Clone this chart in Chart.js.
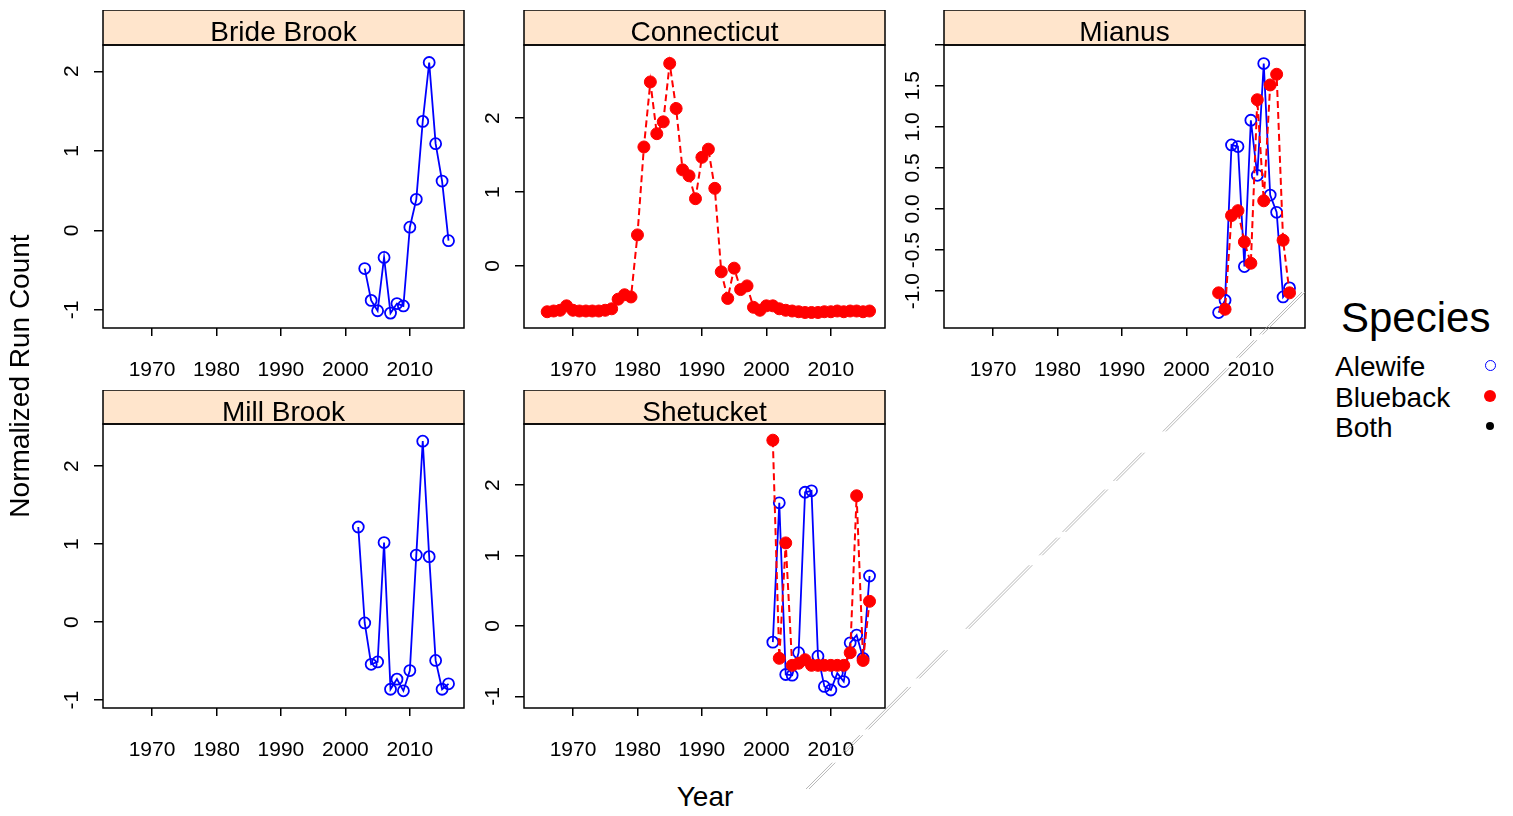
<!DOCTYPE html>
<html>
<head>
<meta charset="utf-8">
<title>Normalized run counts by river</title>
<script src="https://cdn.jsdelivr.net/npm/chart.js@4.4.1/dist/chart.umd.min.js"></script>
<style>
  body { margin: 0; background: #fff; width: 1513px; height: 816px; position: relative; overflow: hidden;
         font-family: "Liberation Sans", Arial, Helvetica, sans-serif; }
  canvas.panel { position: absolute; }
  .lbl { position: absolute; color: #000; white-space: nowrap; line-height: 1; }
  .dot { position: absolute; border-radius: 50%; box-sizing: border-box; }
  #scratch { position: absolute; left: 0; top: 0; pointer-events: none; }
</style>
</head>
<body>

<canvas id="bride" class="panel"></canvas>
<canvas id="conn" class="panel"></canvas>
<canvas id="mianus" class="panel"></canvas>
<canvas id="mill" class="panel"></canvas>
<canvas id="shet" class="panel"></canvas>

<div class="lbl" style="left:20px; top:376px; font-size:28px; transform:translate(-50%,-50%) rotate(-90deg);">Normalized Run Count</div>
<div class="lbl" style="left:705px; top:797px; font-size:28px; transform:translate(-50%,-50%);">Year</div>

<div class="lbl" style="left:1341px; top:318px; font-size:42px; transform:translateY(-50%);">Species</div>
<div class="lbl" style="left:1335px; top:367px; font-size:28px; transform:translateY(-50%);">Alewife</div>
<div class="lbl" style="left:1335px; top:398px; font-size:28px; transform:translateY(-50%);">Blueback</div>
<div class="lbl" style="left:1335px; top:428px; font-size:28px; transform:translateY(-50%);">Both</div>
<div class="dot" style="left:1485px; top:360px; width:11px; height:11px; border:1.8px solid #0000ff;"></div>
<div class="dot" style="left:1484px; top:390px; width:12px; height:12px; background:#ff0000;"></div>
<div class="dot" style="left:1486px; top:422px; width:8px; height:8px; background:#000;"></div>

<canvas id="scratch" width="1513" height="816"></canvas>

<script>
// shared x axis
const xMin = 1962.4;
const xMax = 2018.4;
const xTicks = [1970, 1980, 1990, 2000, 2010];

// Bride Brook
const bbYears = [2003, 2004, 2005, 2006, 2007, 2008, 2009, 2010, 2011, 2012, 2013, 2014, 2015, 2016];
const bbAlewife = [-0.48, -0.88, -1.01, -0.34, -1.04, -0.92, -0.95, 0.04, 0.39, 1.37, 2.11, 1.09, 0.62, -0.13];

// Connecticut
const ctYears = [1966, 1967, 1968, 1969, 1970, 1971, 1972, 1973, 1974, 1975, 1976, 1977, 1978, 1979,
                 1980, 1981, 1982, 1983, 1984, 1985, 1986, 1987, 1988, 1989, 1990, 1991, 1992, 1993,
                 1994, 1995, 1996, 1997, 1998, 1999, 2000, 2001, 2002, 2003, 2004, 2005, 2006, 2007,
                 2008, 2009, 2010, 2011, 2012, 2013, 2014, 2015, 2016];
const ctBlueback = [-0.62, -0.61, -0.60, -0.54, -0.60, -0.61, -0.61, -0.61, -0.61, -0.60, -0.58, -0.45, -0.39, -0.42,
                    0.42, 1.61, 2.49, 1.79, 1.95, 2.74, 2.13, 1.30, 1.22, 0.91, 1.47, 1.58, 1.05, -0.08,
                    -0.44, -0.03, -0.32, -0.27, -0.56, -0.60, -0.54, -0.54, -0.58, -0.60, -0.61, -0.62, -0.63, -0.63,
                    -0.63, -0.62, -0.62, -0.61, -0.62, -0.61, -0.61, -0.62, -0.61];

// Mianus
const miYears = [2005, 2006, 2007, 2008, 2009, 2010, 2011, 2012, 2013, 2014, 2015, 2016];
const miAlewife = [-1.26, -1.11, 0.78, 0.76, -0.70, 1.08, 0.41, 1.77, 0.17, -0.04, -1.07, -0.96];
const miBlueback = [-1.02, -1.22, -0.08, -0.02, -0.40, -0.66, 1.33, 0.10, 1.51, 1.64, -0.38, -1.02];

// Mill Brook
const mbYears = [2002, 2003, 2004, 2005, 2006, 2007, 2008, 2009, 2010, 2011, 2012, 2013, 2014, 2015, 2016];
const mbAlewife = [1.22, -0.01, -0.54, -0.51, 1.02, -0.86, -0.73, -0.88, -0.62, 0.86, 2.32, 0.84, -0.49, -0.86, -0.79];

// Shetucket
const shYears = [2001, 2002, 2003, 2004, 2005, 2006, 2007, 2008, 2009, 2010, 2011, 2012, 2013, 2014, 2015, 2016];
const shAlewife = [-0.23, 1.75, -0.69, -0.70, -0.38, 1.90, 1.92, -0.43, -0.86, -0.91, -0.67, -0.79, -0.24, -0.13, -0.46, 0.71];
const shBlueback = [2.64, -0.46, 1.18, -0.56, -0.53, -0.48, -0.56, -0.56, -0.56, -0.56, -0.56, -0.56, -0.38, 1.85, -0.49, 0.35];

// y tick marks and their labels
const intTicks = [-1, 0, 1, 2];
const intLabels = ['-1', '0', '1', '2'];
const ctTicks = [0, 1, 2];
const ctLabels = ['0', '1', '2'];
const miTicks = [-1, -0.5, 0, 0.5, 1, 1.5, 2];
const miLabels = ['-1.0', '-0.5', '0.0', '0.5', '1.0', '1.5', ''];

const FONT = '"Liberation Sans", Arial, Helvetica, sans-serif';
const Y_AXIS_W = 80;
const X_AXIS_H = 55;
const RIGHT_PAD = 12;
const PLOT_W = 361;

function pts(xs, ys) {
  return xs.map((x, i) => ({ x: x, y: ys[i] }));
}

function alewife(xs, ys) {
  return {
    label: 'Alewife', data: pts(xs, ys), showLine: true,
    borderColor: '#0000ff', borderWidth: 1.8,
    pointRadius: 5.5, pointBorderWidth: 1.8,
    pointBorderColor: '#0000ff', pointBackgroundColor: 'rgba(0,0,0,0)'
  };
}

function blueback(xs, ys) {
  return {
    label: 'Blueback', data: pts(xs, ys), showLine: true,
    borderColor: '#ff0000', borderWidth: 2, borderDash: [7, 4],
    pointRadius: 6, pointBorderWidth: 1,
    pointBorderColor: '#ff0000', pointBackgroundColor: '#ff0000'
  };
}

// strip title, panel box and rotated y labels
const panelFrame = {
  id: 'panelFrame',
  afterDraw(chart, args, opts) {
    const ctx = chart.ctx;
    const a = chart.chartArea;
    ctx.save();
    ctx.fillStyle = '#ffe5cc';
    ctx.fillRect(a.left, a.top - opts.stripH, a.right - a.left, opts.stripH);
    ctx.strokeStyle = '#000';
    ctx.lineWidth = 1.5;
    ctx.strokeRect(a.left, a.top - opts.stripH, a.right - a.left, opts.stripH);
    ctx.strokeRect(a.left, a.top, a.right - a.left, a.bottom - a.top);

    ctx.fillStyle = '#000';
    ctx.font = '28px ' + FONT;
    ctx.textAlign = 'center';
    ctx.textBaseline = 'middle';
    ctx.fillText(opts.title, (a.left + a.right) / 2, a.top - opts.stripH / 2 + 6);

    const ys = chart.scales.y;
    ctx.font = '21px ' + FONT;
    opts.yTicks.forEach((v, i) => {
      const label = opts.yLabels[i];
      if (!label) return;
      ctx.save();
      ctx.translate(a.left - 31, ys.getPixelForValue(v));
      ctx.rotate(-Math.PI / 2);
      ctx.fillText(label, 0, 0);
      ctx.restore();
    });
    ctx.restore();
  }
};

function makePanel(id, cfg) {
  const cv = document.getElementById(id);
  const w = Y_AXIS_W + PLOT_W + RIGHT_PAD;
  const h = cfg.stripH + cfg.plotH + X_AXIS_H;
  cv.width = w;
  cv.height = h;
  cv.style.left = (cfg.left - Y_AXIS_W) + 'px';
  cv.style.top = cfg.top + 'px';

  new Chart(cv, {
    type: 'scatter',
    data: { datasets: cfg.datasets },
    options: {
      responsive: false,
      animation: false,
      events: [],
      layout: { padding: { top: cfg.stripH, right: RIGHT_PAD, left: 0, bottom: 0 } },
      plugins: {
        legend: { display: false },
        tooltip: { enabled: false },
        panelFrame: { title: cfg.title, stripH: cfg.stripH, yTicks: cfg.yTicks, yLabels: cfg.yLabels }
      },
      scales: {
        x: {
          type: 'linear', min: xMin, max: xMax,
          afterBuildTicks: s => { s.ticks = xTicks.map(v => ({ value: v })); },
          afterFit: s => { s.height = X_AXIS_H; },
          border: { display: false },
          grid: { drawOnChartArea: false, drawTicks: true, tickLength: 8, color: '#000', lineWidth: 1.5 },
          ticks: { color: '#000', font: { family: FONT, size: 21 }, padding: 22,
                   autoSkip: false, maxRotation: 0, callback: v => String(v) }
        },
        y: {
          type: 'linear', min: cfg.yMin, max: cfg.yMax,
          afterBuildTicks: s => { s.ticks = cfg.yTicks.map(v => ({ value: v })); },
          afterFit: s => { s.width = Y_AXIS_W; },
          border: { display: false },
          grid: { drawOnChartArea: false, drawTicks: true, tickLength: 9, color: '#000', lineWidth: 1.5 },
          ticks: { display: false }
        }
      }
    },
    plugins: [panelFrame]
  });
}

makePanel('bride', {
  title: 'Bride Brook', left: 103, top: 10, stripH: 35, plotH: 283,
  yMin: -1.227, yMax: 2.33, yTicks: intTicks, yLabels: intLabels,
  datasets: [alewife(bbYears, bbAlewife)]
});

makePanel('conn', {
  title: 'Connecticut', left: 524, top: 10, stripH: 35, plotH: 283,
  yMin: -0.84, yMax: 2.99, yTicks: ctTicks, yLabels: ctLabels,
  datasets: [blueback(ctYears, ctBlueback)]
});

makePanel('mianus', {
  title: 'Mianus', left: 944, top: 10, stripH: 35, plotH: 283,
  yMin: -1.448, yMax: 1.996, yTicks: miTicks, yLabels: miLabels,
  datasets: [blueback(miYears, miBlueback), alewife(miYears, miAlewife)]
});

makePanel('mill', {
  title: 'Mill Brook', left: 103, top: 390, stripH: 34, plotH: 284,
  yMin: -1.10, yMax: 2.54, yTicks: intTicks, yLabels: intLabels,
  datasets: [alewife(mbYears, mbAlewife)]
});

makePanel('shet', {
  title: 'Shetucket', left: 524, top: 390, stripH: 34, plotH: 284,
  yMin: -1.166, yMax: 2.87, yTicks: intTicks, yLabels: intLabels,
  datasets: [blueback(shYears, shBlueback), alewife(shYears, shAlewife)]
});

// faint double hairline running across the lower right of the page
(function () {
  const c = document.getElementById('scratch').getContext('2d');
  c.strokeStyle = 'rgba(160,160,160,0.75)';
  c.lineWidth = 1;
  c.setLineDash([60, 8, 25, 14, 90, 30, 40, 12]);
  [0, 3].forEach(off => {
    c.beginPath();
    c.moveTo(1302 + off, 292);
    c.lineTo(806 + off, 789);
    c.stroke();
  });
})();
</script>
</body>
</html>
